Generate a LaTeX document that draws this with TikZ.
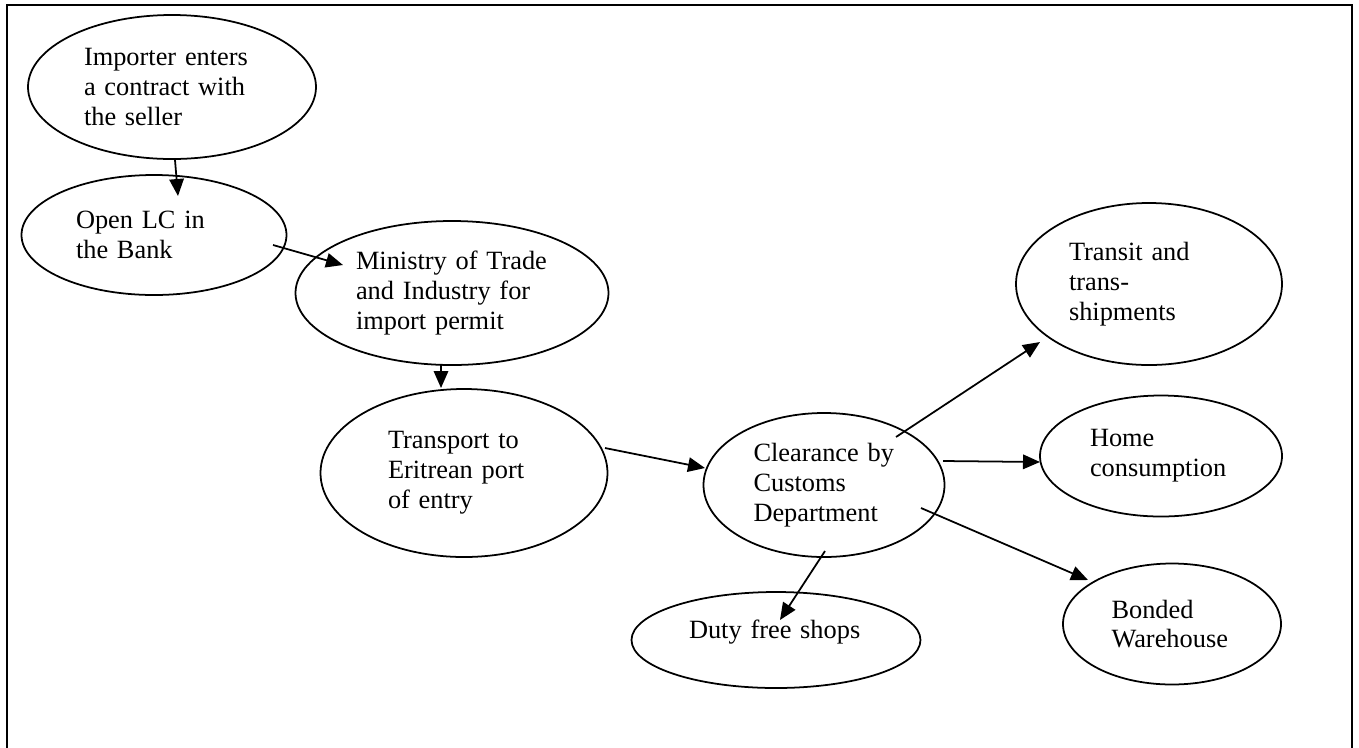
\documentclass[tikz,border=0pt]{standalone}
\usepackage{fontspec}
\setmainfont{Liberation Serif}
\usepackage{tikz}
\usetikzlibrary{shapes.geometric, arrows.meta}
\usetikzlibrary{calc}
\tikzstyle{stage} = [ellipse, draw=black, line width=1pt, inner sep=0pt, align=left, font=\fontsize{15}{17}\selectfont]
\tikzstyle{arrow} = [line width=1pt,->,>={Triangle[length=0.34cm,width=0.29cm]}]

\begin{document}
\begin{tikzpicture}[node distance=2cm]
\useasboundingbox (0,0) rectangle (27.18,-14.94);
\draw [line width=1pt] (0.14,-15) -- (0.14,-0.1) -- (27.04,-0.1) -- (27.04,-15);

\node (imp) [stage, minimum width=5.76cm, minimum height=2.88cm, text width=3.52cm] at (3.44,-1.74) {Importer enters\\a contract with\\the seller};
\node (bank) [stage, below of=imp, xshift=-0.36cm, yshift=-0.96cm, minimum width=5.3cm, minimum height=2.4cm, text width=3.12cm] {Open LC in\\the Bank};
\node (mti) [stage, right of=bank, xshift=3.96cm, yshift=-1.16cm, minimum width=6.26cm, minimum height=2.88cm, text width=3.84cm] {Ministry of Trade\\and Industry for\\import permit};
\node (port) [stage, below of=mti, xshift=0.24cm, yshift=-1.6cm, minimum width=5.74cm, minimum height=3.36cm, text width=3.04cm] {Transport to\\Eritrean port\\of entry};

\node (cust) [stage, right of=port, xshift=5.2cm, yshift=-0.24cm, minimum width=4.82cm, minimum height=2.88cm, text width=2.82cm] {Clearance by\\Customs\\Department};
\node (home) [stage, right of=cust, xshift=4.74cm, yshift=0.58cm, minimum width=4.84cm, minimum height=2.42cm, text width=2.84cm] {Home\\consumption};
\node (trans) [stage, above of=home, xshift=-0.24cm, yshift=1.44cm, minimum width=5.32cm, minimum height=3.24cm, text width=3.2cm] {Transit and\\trans-\\shipments};
\node (bond) [stage, below of=home, xshift=0.22cm, yshift=-1.36cm, minimum width=4.36cm, minimum height=2.42cm, text width=2.42cm] {Bonded\\Warehouse};
\node (duty) [stage, below of=cust, xshift=-0.96cm, yshift=-1.1cm, minimum width=5.78cm, minimum height=1.92cm, text width=3.48cm, text depth=0.44cm] {Duty free shops};

\draw [arrow] ($(imp.center)+(0.06,-1.46)$) -- ($(bank.center)+(0.48,0.78)$);
\draw [arrow] ($(bank.center)+(2.38,-0.2)$) -- ($(mti.center)+(-2.18,0.56)$);
\draw [arrow] ($(mti.center)+(-0.22,-1.44)$) -- ($(port.center)+(-0.46,1.7)$);
\draw [arrow] ($(port.center)+(2.82,0.5)$) -- ($(cust.center)+(-2.38,0.34)$);

\draw [arrow] ($(cust.center)+(1.44,0.96)$) -- ($(trans.center)+(-2.18,-1.16)$);
\draw [arrow] ($(cust.center)+(2.38,0.48)$) -- ($(home.center)+(-2.42,-0.12)$);
\draw [arrow] ($(cust.center)+(1.94,-0.46)$) -- ($(bond.center)+(-1.68,0.88)$);
\draw [arrow] ($(cust.center)+(0.02,-1.32)$) -- ($(duty.center)+(0.08,0.4)$);

\end{tikzpicture}
\end{document}
